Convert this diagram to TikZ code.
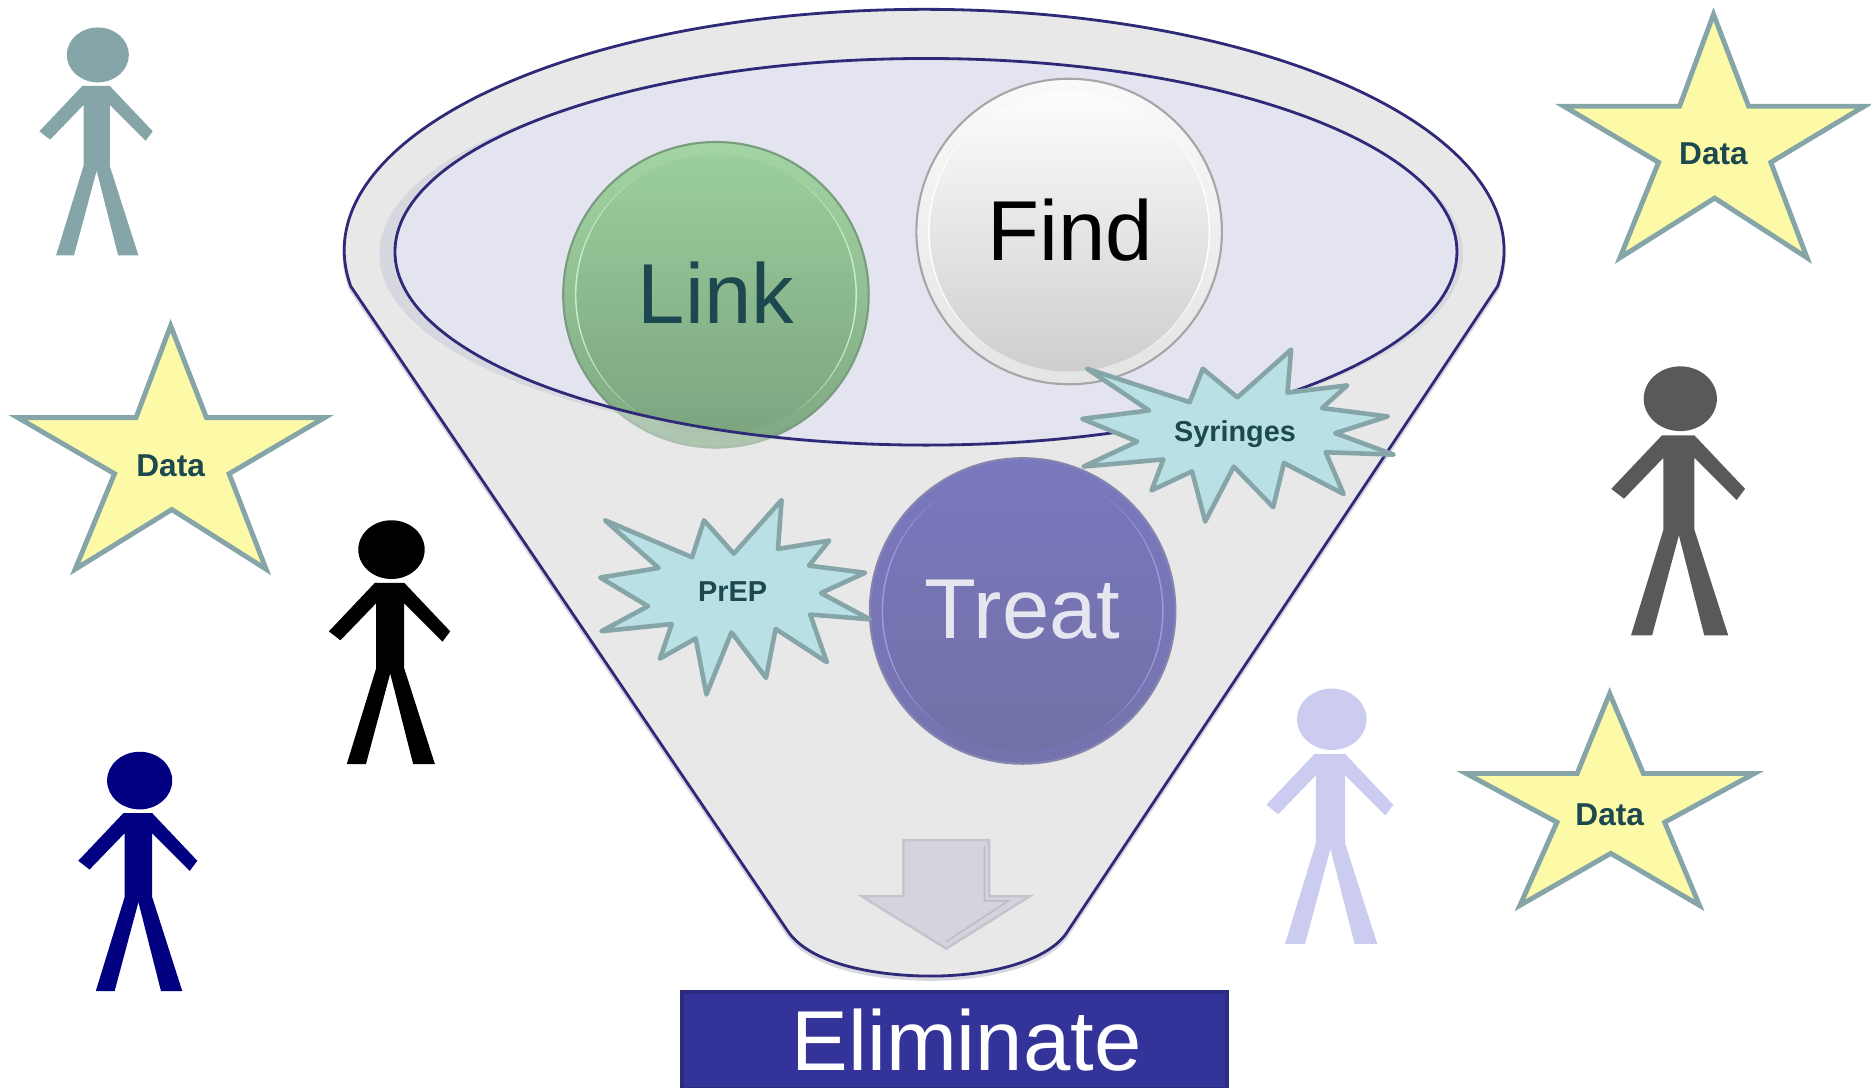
\documentclass[tikz,border=0pt]{standalone}
\usepackage{fontspec}
\setmainfont{Liberation Sans}
\usetikzlibrary{calc}
\definecolor{funnelgray}{HTML}{E8E8E8}
\definecolor{funnelline}{HTML}{2E2A78}
\definecolor{mouthfill}{HTML}{E3E4EF}
\definecolor{mouthshade}{HTML}{D6D7DF}
\definecolor{starfill}{HTML}{FCFAA6}
\definecolor{burstfill}{HTML}{B9E0E4}
\definecolor{edgeteal}{HTML}{85A5A8}
\definecolor{labelteal}{HTML}{1C4850}
\definecolor{elimfill}{HTML}{333399}
\definecolor{elimedge}{HTML}{2B2B80}
\definecolor{arrowfill}{HTML}{D3D4DE}
\definecolor{arrowedge}{HTML}{C4C5CC}
\definecolor{linktop}{HTML}{A3D4A3}
\definecolor{linkbot}{HTML}{7FA882}
\definecolor{linkin}{HTML}{9CD09E}
\definecolor{linkinbot}{HTML}{7BA37E}
\definecolor{linkrim}{HTML}{C6F0C8}
\definecolor{linkedge}{HTML}{7A9C7E}
\definecolor{findtop}{HTML}{FAFAFA}
\definecolor{findbot}{HTML}{E4E4E4}
\definecolor{findin}{HTML}{FFFFFF}
\definecolor{findinbot}{HTML}{CCCCCC}
\definecolor{findrim}{HTML}{FFFFFF}
\definecolor{findedge}{HTML}{A6A6A6}
\definecolor{treattop}{HTML}{7A78BE}
\definecolor{treatbot}{HTML}{7573AE}
\definecolor{treatin}{HTML}{7A78BE}
\definecolor{treatinbot}{HTML}{7170A6}
\definecolor{treatrim}{HTML}{9C9CE0}
\definecolor{treatedge}{HTML}{8585B0}
\definecolor{treattext}{HTML}{E6E6F0}
\definecolor{manlav}{HTML}{CCCCF0}
\definecolor{mannavy}{HTML}{000080}
\definecolor{mangray}{HTML}{595959}
\tikzset{
  ball/.style n args={6}{circle,minimum size=3.055cm,inner sep=0pt,draw=#6,line width=.6pt,
    top color=#1,bottom color=#2,font=\fontsize{24.2}{25}\selectfont,
    path picture={
      \shade[top color=#3,bottom color=#4] (path picture bounding box.center) circle (1.4cm);
      \fill[#5] (path picture bounding box.center) ++(125:1.41cm) arc[radius=1.41cm,start angle=125,end angle=235] arc[x radius=1.375cm,y radius=1.41cm,start angle=235,end angle=125] -- cycle;
      \fill[#5] (path picture bounding box.center) ++(-55:1.41cm) arc[radius=1.41cm,start angle=-55,end angle=55] arc[x radius=1.375cm,y radius=1.41cm,start angle=55,end angle=-55] -- cycle;
    }},
  startext/.style={font=\fontsize{9}{10}\bfseries\selectfont,text=labelteal},
  bursttext/.style={font=\fontsize{8.2}{10}\bfseries\selectfont,text=labelteal},
  starline/.style={draw=edgeteal,fill=starfill,line width=1.4pt,miter limit=20},
  burstline/.style={draw=edgeteal,fill=burstfill,line width=1.3pt,line join=round},
}
% star around its label
\newcommand{\datastar}[5]{
\begin{scope}[shift={(#1,#2)},xscale=#3,yscale=#4]
\draw[starline] (0,-117) -- (30,-40) -- (129,-40) -- (49,7) -- (80,87) -- (1,37) -- (-80,87) -- (-47,7) -- (-128,-40) -- (-29,-40) -- cycle;
\end{scope}
\node[startext] (#5) at (#1,#2) {Data};
}
% stick figure, from the middle of its top
\newcommand{\stickman}[4]{
\begin{scope}[shift={(#1,#2)},scale=#3]
\fill[#4] (1,23) ellipse (26 and 23);
\fill[#4] (-12,49) -- (11,49) -- (47,87) -- (41,95) -- (11,65) -- (11,116) -- (35,191) -- (18,191) -- (0,120) -- (-19,191) -- (-34,191) -- (-11,116) -- (-11,65) -- (-39,94) -- (-48,87) -- cycle;
\end{scope}
}
\begin{document}
\begin{tikzpicture}[x=0.011932cm,y=-0.011932cm]
\useasboundingbox (0,0) rectangle (1568,911);
% the funnel
\begin{scope}[yshift=-.03cm]
\draw[mouthshade,line width=1pt] (294,240) arc[x radius=486,y radius=202,start angle=171.4,end angle=368.6] -- (895,780) .. controls (880,805) and (830,818) .. (780,818) .. controls (740,818) and (680,810) .. (660,780) -- cycle;
\end{scope}
\draw[funnelline,fill=funnelgray,line width=.8pt] (294,240) arc[x radius=486,y radius=202,start angle=171.4,end angle=368.6] -- (895,780) .. controls (880,805) and (830,818) .. (780,818) .. controls (740,818) and (680,810) .. (660,780) -- cycle;
\fill[mouthshade] (772,213) ellipse (454 and 161);
\fill[mouthfill] (776,211) ellipse (445 and 162);
% the balls
\node[ball={linktop}{linkbot}{linkin}{linkinbot}{linkrim}{linkedge},text=labelteal] (link) at (600,247) {\raisebox{1pt}{Link}};
\begin{scope}
\clip (600,247) circle (129);
\fill[even odd rule,funnelgray,opacity=.45] (400,100) rectangle (800,400) (776,211) ellipse (445 and 162);
\end{scope}
\draw[funnelline,line width=.8pt] (776,211) ellipse (445 and 162);
\node[ball={findtop}{findbot}{findin}{findinbot}{findrim}{findedge},text=black] (find) at (896,194) {\raisebox{1pt}{\hspace{.8pt}Find}};
\node[ball={treattop}{treatbot}{treatin}{treatinbot}{treatrim}{treatedge},text=treattext] (treat) at (857,512) {\raisebox{1pt}{Treat}};
% the arrow
\draw[arrowedge,fill=arrowfill,line width=.7pt] (757,704) -- (829,704) -- (829,751) -- (863,751) -- (793,795) -- (722,751) -- (757,751) -- cycle;
\draw[arrowfill!70!gray,line width=.4pt] (825,709) -- (825,755) -- (845,755) -- (793,789);
% the bursts
\draw[burstline] (911,309) -- (997,337) -- (1008,309) -- (1037,333) -- (1082,293) -- (1079,329) -- (1129,323) -- (1108,342) -- (1163,349) -- (1119,363) -- (1168,381) -- (1111,379) -- (1126,414) -- (1076,388) -- (1067,425) -- (1034,391) -- (1010,437) -- (999,395) -- (965,411) -- (975,385) -- (908,391) -- (953,370) -- (907,351) -- (963,344) -- cycle;
\node[bursttext] (syringes) at (1035,364) {Syringes};
\draw[burstline] (507,436) -- (580,467) -- (590,436) -- (615,464) -- (655,419) -- (652,460) -- (695,453) -- (678,474) -- (725,480) -- (688,497) -- (729,519) -- (679,515) -- (693,555) -- (650,527) -- (642,568) -- (613,530) -- (592,582) -- (583,535) -- (553,552) -- (563,523) -- (504,529) -- (543,508) -- (503,484) -- (552,476) -- cycle;
\node[bursttext] (prep) at (614,496) {PrEP};
% the box
\node[draw=elimedge,fill=elimfill,line width=1.2pt,inner sep=0pt,minimum width=5.45cm,minimum height=.97cm,anchor=north west] (boxend) at (569.5,829.5) {};
\node[text=white,font=\fontsize{24.2}{25}\selectfont] (elim) at (810,872) {Eliminate};
% the stars
\datastar{143}{390}{1}{1}{dataleft}
\datastar{1436}{129}{.98}{1}{datatop}
\datastar{1349}{683}{.94}{.87}{databottom}
% the people
\stickman{81}{23}{1}{edgeteal}
\stickman{327}{436}{1.07}{black}
\stickman{116}{630}{1.05}{mannavy}
\stickman{1407}{307}{1.18}{mangray}
\stickman{1115}{577}{1.12}{manlav}
\end{tikzpicture}
\end{document}
